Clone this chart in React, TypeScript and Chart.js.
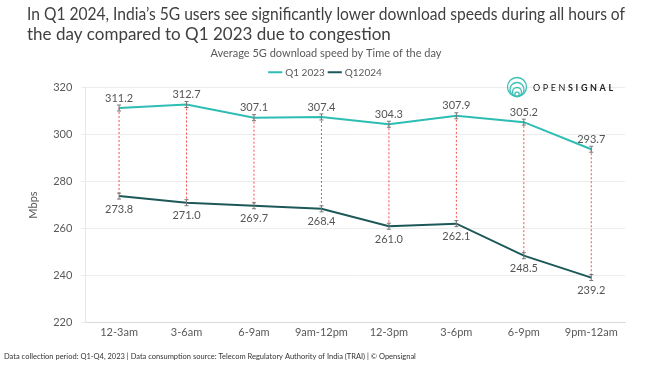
import React, { useEffect, useRef } from "react";
import { Chart, registerables } from "chart.js";

Chart.register(...registerables);

const categories = ["12-3am", "3-6am", "6-9am", "9am-12pm", "12-3pm", "3-6pm", "6-9pm", "9pm-12am"];
const q12023 = [311.2, 312.7, 307.1, 307.4, 304.3, 307.9, 305.2, 293.7];
const q12024 = [273.8, 271.0, 269.7, 268.4, 261.0, 262.1, 248.5, 239.2];
const seriesNames = ["Q1 2023", "Q12024"];
const titleLines = [
  "In Q1 2024, India\u2019s 5G users see significantly lower download speeds during all hours of",
  "the day compared to Q1 2023 due to congestion",
];
const subtitleText = "Average 5G download speed by Time of the day";
const footerText =
  "Data collection period: Q1-Q4, 2023 | Data consumption source: Telecom Regulatory Authority of India (TRAI) | \u00a9 Opensignal";

const FONT = "Lato, 'DejaVu Sans', sans-serif";
const C1 = "#2DBDB3";
const C2 = "#1D5858";

const overlay = {
  id: "overlay",
  beforeDatasetsDraw(chart: any) {
    const ctx = chart.ctx;
    const m0 = chart.getDatasetMeta(0);
    const m1 = chart.getDatasetMeta(1);
    ctx.save();
    ctx.strokeStyle = "#FF4B4B";
    ctx.lineWidth = 1;
    ctx.setLineDash([2, 2]);
    m0.data.forEach((p: any, i: number) => {
      const q = m1.data[i];
      ctx.beginPath();
      ctx.moveTo(p.x, p.y);
      ctx.lineTo(q.x, q.y);
      ctx.stroke();
    });
    ctx.restore();
  },
  afterDatasetsDraw(chart: any) {
    const ctx = chart.ctx;
    ctx.save();
    [0, 1].forEach((di) => {
      const meta = chart.getDatasetMeta(di);
      const vals = chart.data.datasets[di].data;
      meta.data.forEach((p: any, i: number) => {
        ctx.strokeStyle = "#777777";
        ctx.lineWidth = 1;
        ctx.beginPath();
        ctx.moveTo(p.x, p.y - 3);
        ctx.lineTo(p.x, p.y + 3);
        ctx.moveTo(p.x - 2, p.y - 3);
        ctx.lineTo(p.x + 2, p.y - 3);
        ctx.moveTo(p.x - 2, p.y + 3);
        ctx.lineTo(p.x + 2, p.y + 3);
        ctx.stroke();
        ctx.fillStyle = "#555555";
        ctx.font = `11px ${FONT}`;
        ctx.textAlign = "center";
        ctx.textBaseline = "middle";
        const txt = Number(vals[i]).toFixed(1);
        ctx.fillText(txt, p.x, di === 0 ? p.y - 10 : p.y + 13);
      });
    });
    ctx.restore();
  },
  afterDraw(chart: any) {
    const ctx = chart.ctx;
    ctx.save();
    ctx.fillStyle = "#333333";
    ctx.font = `7.5px ${FONT}`;
    ctx.textAlign = "left";
    ctx.textBaseline = "middle";
    ctx.fillText(footerText, 4, 357);
    const cx = 517, cy = 87;
    ctx.strokeStyle = "#3EC1B6";
    ctx.lineWidth = 1.3;
    [9.5, 7, 4.5, 2.2].forEach((r) => {
      ctx.beginPath();
      ctx.arc(cx, cy + (9.5 - r), r, 0, Math.PI * 2);
      ctx.stroke();
    });
    ctx.fillStyle = "#222222";
    ctx.textAlign = "left";
    let x = 533;
    const draw = (s: string, bold: boolean) => {
      ctx.font = `${bold ? "bold " : ""}9px ${FONT}`;
      for (const ch of s) {
        ctx.fillText(ch, x, cy + 1);
        x += ctx.measureText(ch).width + 2.6;
      }
    };
    draw("OPEN", false);
    draw("SIGNAL", true);
    ctx.restore();
  },
};

export default function App() {
  const ref = useRef<HTMLCanvasElement>(null);
  useEffect(() => {
    document.body.style.margin = "0";
    const chart = new Chart(ref.current!, {
      type: "line",
      data: {
        labels: categories,
        datasets: [
          {
            label: seriesNames[0],
            data: q12023,
            borderColor: C1,
            backgroundColor: C1,
            borderWidth: 2,
            pointRadius: 0,
            tension: 0,
          },
          {
            label: seriesNames[1],
            data: q12024,
            borderColor: C2,
            backgroundColor: C2,
            borderWidth: 2,
            pointRadius: 0,
            tension: 0,
          },
        ],
      },
      options: {
        animation: false,
        responsive: false,
        layout: { padding: { left: 27, right: 25, top: 5, bottom: 23 } },
        plugins: {
          title: {
            display: true,
            text: titleLines,
            align: "start",
            color: "#404040",
            font: { family: FONT, size: 17, weight: "normal", lineHeight: 1.15 },
            padding: { top: 0, bottom: 3 },
          },
          subtitle: {
            display: true,
            text: subtitleText,
            color: "#595959",
            font: { family: FONT, size: 11 },
            padding: { top: 0, bottom: 2 },
          },
          legend: {
            display: true,
            labels: {
              usePointStyle: true,
              pointStyle: "line",
              boxWidth: 12,
              color: "#595959",
              font: { family: FONT, size: 10 },
              padding: 5,
            },
          },
          tooltip: { enabled: false },
        },
        scales: {
          x: {
            offset: true,
            grid: { display: false, drawTicks: false },
            border: { color: "#d9d9d9" },
            ticks: { color: "#595959", font: { family: FONT, size: 11 }, maxRotation: 0, padding: 3 },
          },
          y: {
            min: 220,
            max: 320,
            ticks: { stepSize: 20, color: "#595959", font: { family: FONT, size: 11 }, padding: 9 },
            grid: { color: "#ececec", tickLength: 4 },
            border: { color: "#e6e6e6" },
            title: { display: true, text: "Mbps", color: "#595959", font: { family: FONT, size: 11 }, padding: { top: 0, bottom: 4 } },
          },
        },
      },
      plugins: [overlay],
    });
    return () => chart.destroy();
  }, []);
  return (
    <div style={{ position: "relative", width: 650, height: 365, background: "#fff" }}>
      <canvas ref={ref} width={650} height={365} />
    </div>
  );
}
